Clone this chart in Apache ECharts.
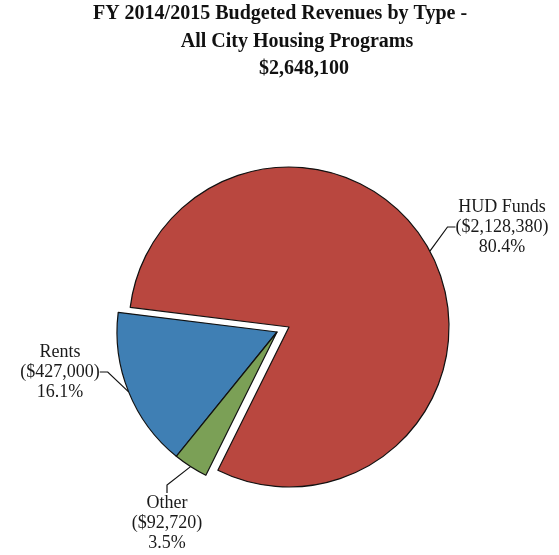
<!DOCTYPE html>
<html>
<head>
<meta charset="utf-8">
<script src="https://cdn.jsdelivr.net/npm/echarts@6/dist/echarts.min.js"></script>
<style>html,body{margin:0;padding:0;background:#fff;}#c{width:559px;height:555px;}</style>
</head>
<body>
<div id="c"></div>
<script>
const titleLines = ['FY 2014/2015 Budgeted Revenues by Type -', 'All City Housing Programs', '$2,648,100'];
const categories = ['HUD Funds', 'Rents', 'Other'];
const values = [2128380, 427000, 92720];
const colors = ['#B9473F', '#3F7FB4', '#7BA056'];

const chart = echarts.init(document.getElementById('c'), null, {renderer: 'canvas'});
const FONT = '"Liberation Serif", "Times New Roman", serif';
const fmt = v => '($' + v.toLocaleString('en-US') + ')';

function makeData(showIdx) {
  return categories.map((name, i) => {
    const on = showIdx.indexOf(i) >= 0;
    return {
      name: name,
      value: values[i],
      itemStyle: on ? {color: colors[i], borderColor: '#111', borderWidth: 1.2}
                    : {color: 'rgba(0,0,0,0)', borderWidth: 0},
      label: {show: on},
      labelLine: {show: on}
    };
  });
}

const labelCommon = {
  fontFamily: FONT,
  fontSize: 18,
  lineHeight: 20,
  color: '#1a1a1a',
  align: 'center',
  formatter: p => p.name + '\n' + fmt(p.value) + '\n' + p.percent.toFixed(1) + '%'
};

const pieBase = {
  type: 'pie',
  radius: 160,
  startAngle: 243.6,
  clockwise: false,
  avoidLabelOverlap: false,
  silent: true,
  percentPrecision: 1,
  label: labelCommon,
  labelLine: {show: true, length: 10, length2: 8, lineStyle: {color: '#111', width: 1.2}},
  emphasis: {disabled: true}
};

const labelPos = {0: [502, 227], 1: [60, 372], 2: [167, 523]};
const titleCenters = [[280, 1], [297, 29], [304, 56]];

chart.setOption({
  backgroundColor: '#fff',
  animation: false,
  title: titleLines.map((t, i) => ({
    text: t,
    left: titleCenters[i][0],
    top: titleCenters[i][1],
    textAlign: 'center',
    padding: 0,
    textStyle: {fontFamily: FONT, fontWeight: 'bold', fontSize: 20, lineHeight: 26, color: '#111'}
  })),
  series: [
    Object.assign({}, pieBase, {
      center: [289, 327],
      data: makeData([0]),
      labelLayout: p => {
        const pos = labelPos[p.dataIndex];
        return {x: pos[0], y: pos[1], align: 'center', verticalAlign: 'middle'};
      }
    }),
    Object.assign({}, pieBase, {
      center: [277, 332],
      data: makeData([1, 2]),
      labelLayout: p => {
        const pos = labelPos[p.dataIndex];
        return {x: pos[0], y: pos[1], align: 'center', verticalAlign: 'middle'};
      }
    })
  ]
});
</script>
</body>
</html>
